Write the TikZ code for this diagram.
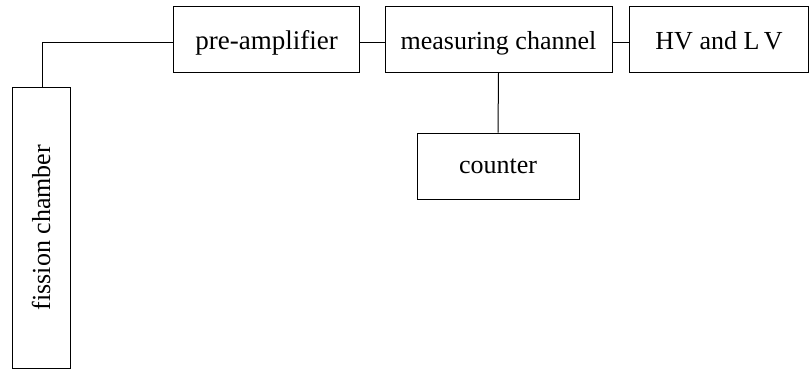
\documentclass[tikz,border=0pt]{standalone}
\usepackage{fontspec}
\setmainfont{Liberation Serif}
\begin{document}
\begin{tikzpicture}[x=1pt,y=-1pt,
  blk/.style={draw, line width=1pt, inner sep=0pt, font=\fontsize{26}{30}\selectfont},
  toprow/.style={text height=25pt, text depth=4pt},
  wire/.style={line width=1pt}]
\useasboundingbox (0,0) rectangle (810,373);
\node[blk, toprow, minimum width=186pt, minimum height=66pt, font=\fontsize{27}{31}\selectfont] (pre) at (266.5,39) {pre-amplifier};
\node[blk, toprow, minimum width=227pt, minimum height=66pt] (meas) at (498.5,39) {measuring channel};
\node[blk, toprow, minimum width=179pt, minimum height=66pt] (hv) at (719,39) {HV and L\,V};
\node[blk, minimum width=162pt, minimum height=66pt] (cnt) at (498,166) {counter};
\node[blk, minimum width=58pt, minimum height=281pt] (fc) at (41,227.5) {};
\node[font=\fontsize{26}{30}\selectfont, rotate=90] (fct) at (fc.center) {fission chamber};
\coordinate (bend) at (42,42);
\draw[wire] (fc.north -| bend) -- (bend) -- (pre.west |- bend);
\draw[wire] (pre.east |- bend) -- (meas.west |- bend);
\draw[wire] (meas.east |- bend) -- (hv.west |- bend);
\draw[wire] (meas.south) -- (cnt.north);
\end{tikzpicture}
\end{document}
